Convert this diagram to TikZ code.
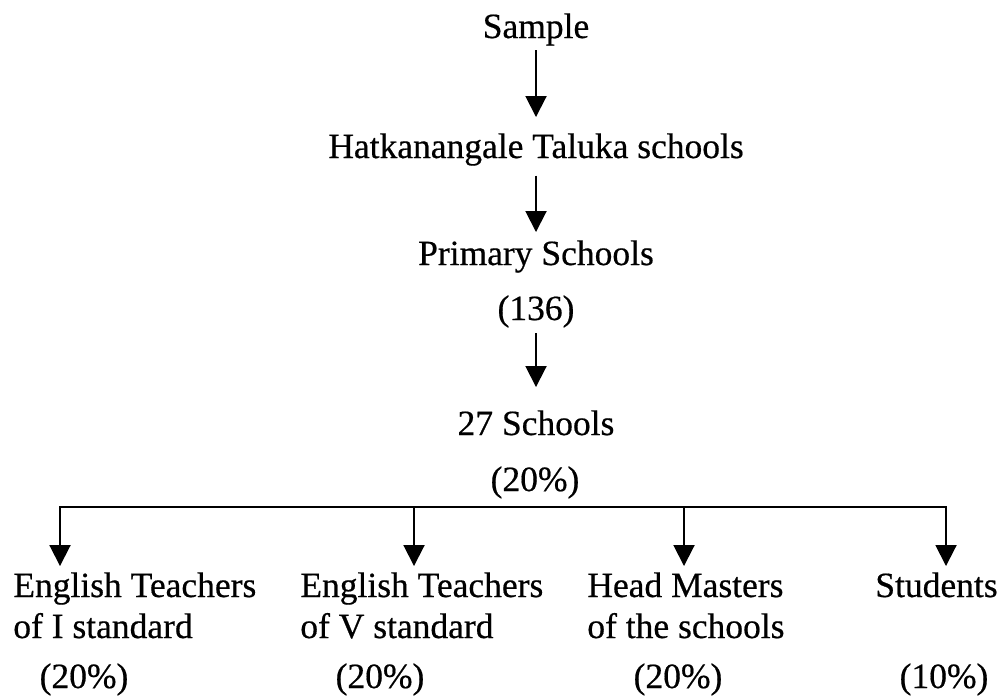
\documentclass[tikz,border=0pt]{standalone}
\usepackage{fontspec}
\setmainfont{Liberation Serif}
\newfontfamily\scanfont[FakeBold=0.5]{Liberation Serif}
\usetikzlibrary{arrows.meta}

\begin{document}
\begin{tikzpicture}[
    x=0.02cm, y=-0.02cm,
    lbl/.style={font=\scanfont\fontsize{20.2}{23.3}\selectfont, inner sep=0pt, anchor=base},
    llbl/.style={lbl, anchor=base west},
    arr/.style={-{Triangle[width=0.42cm, length=0.42cm]}, line width=1.1pt},
    bar/.style={line width=1.1pt},
  ]
  \useasboundingbox (0,0) rectangle (1000,697);

  % --- Top chain ---
  \node[lbl] (sample)  at (536, 38)  {Sample};
  \node[lbl] (taluka)  at (536, 158) {Hatkanangale Taluka schools};
  \node[lbl] (primary) at (536, 265) {Primary Schools};
  \node[lbl] (n136)    at (536, 320) {(136)};
  \node[lbl] (s27)     at (536, 435) {27 Schools};
  \node[lbl] (p27)     at (535, 491) {(20\%)};

  \draw[arr, shorten <=0.09cm, shorten >=0.32cm] (sample.south) -- (taluka.north);
  \draw[arr, shorten <=0.19cm, shorten >=0.16cm] (taluka.south) -- (primary.north);
  \draw[arr, shorten <=0.11cm, shorten >=0.46cm] (n136.south) -- (s27.north);

  % --- Groups ---
  \node[llbl] (t1a) at (13, 597)  {English Teachers};
  \node[llbl] (t1b) at (13, 638)  {of I standard};
  \node[lbl]  (p1)  at (84, 688)  {(20\%)};

  \node[llbl] (t2a) at (300, 597) {English Teachers};
  \node[llbl] (t2b) at (300, 638) {of V standard};
  \node[lbl]  (p2)  at (380, 688) {(20\%)};

  \node[llbl] (t3a) at (587, 597) {Head Masters};
  \node[llbl] (t3b) at (587, 638) {of the schools};
  \node[lbl]  (p3)  at (678, 688) {(20\%)};

  \node[llbl] (t4a) at (875, 597) {Students};
  \node[lbl]  (p4)  at (944, 688) {(10\%)};

  % --- Branch bar ---
  \coordinate (d1) at (60, 507);
  \coordinate (d2) at (414, 507);
  \coordinate (d3) at (684, 507);
  \coordinate (d4) at (946, 507);

  \draw[bar] (d2) -- (d3);
  \draw[arr, shorten >=0.12cm] (d2) -| (d1 |- t1a.north);
  \draw[arr, shorten >=0.12cm] (d2) -- (d2 |- t2a.north);
  \draw[arr, shorten >=0.12cm] (d3) -- (d3 |- t3a.north);
  \draw[arr, shorten >=0.12cm] (d3) -| (d4 |- t4a.north);

\end{tikzpicture}
\end{document}
